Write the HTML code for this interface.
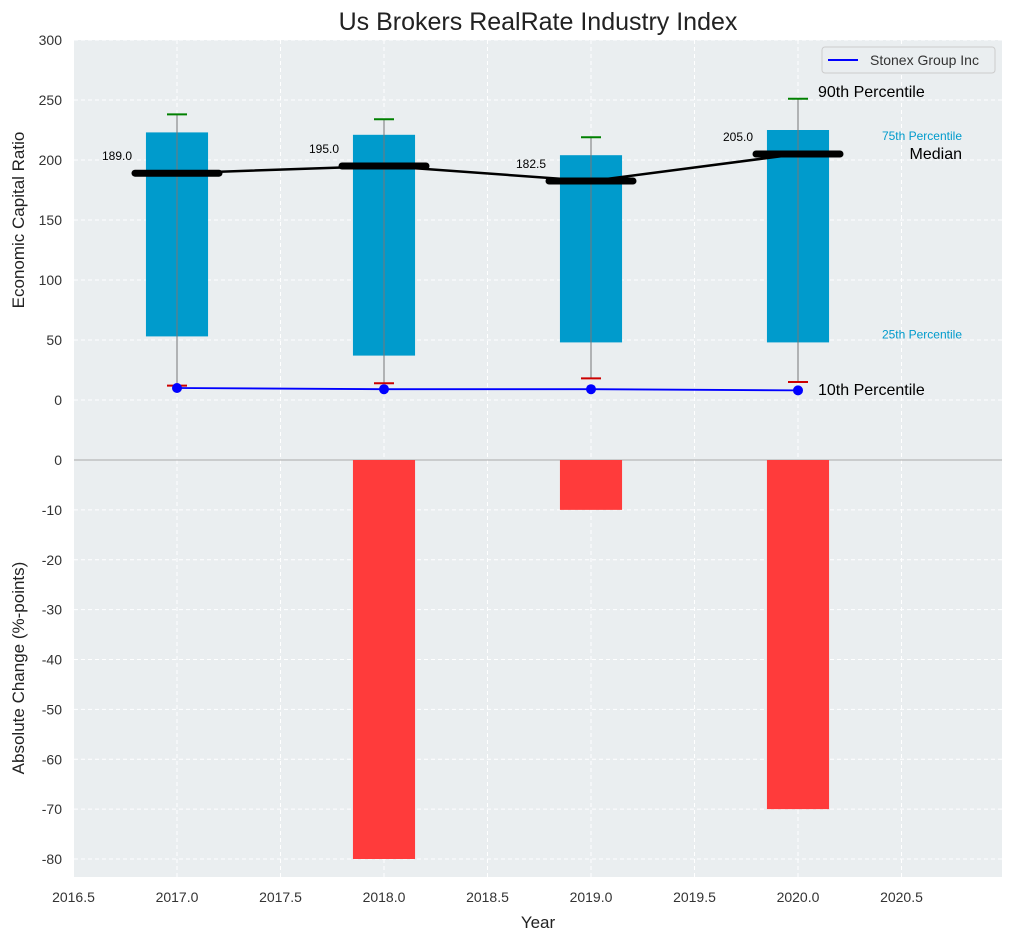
<!DOCTYPE html>
<html><head><meta charset="utf-8"><style>
body{margin:0;background:#fff;font-family:"Liberation Sans",sans-serif}
</style></head><body>
<svg id="c" width="1012" height="940" xmlns="http://www.w3.org/2000/svg" font-family="Liberation Sans, sans-serif"></svg>
<script>
const years=[2017,2018,2019,2020];
const p10=[12,14,18,15];
const p25=[53,37,48,48];
const p50=[189,195,182.5,205];
const p75=[223,221,204,225];
const p90=[238,234,219,251];
const stonex=[10,9,9,8];
const change=[0,-80,-10,-70];
const xTicks=[2016.5,2017,2017.5,2018,2018.5,2019,2019.5,2020,2020.5];
const yTopTicks=[0,50,100,150,200,250,300];
const yBotTicks=[0,-10,-20,-30,-40,-50,-60,-70,-80];

const svg=document.getElementById('c');
const NS='http://www.w3.org/2000/svg';
const L=74,R=1002,T1=40,B1=460,T2=460,B2=877;
const X=v=>73.5+(v-2016.5)*207;
const Y1=v=>400-v*1.2;
const Y2=v=>460-v*4.9875;
function el(t,a,txt){const e=document.createElementNS(NS,t);for(const k in a)e.setAttribute(k,a[k]);if(txt!==undefined)e.textContent=txt;svg.appendChild(e);return e;}

let e;
e=el('rect',{x:L,y:T1,width:R-L,height:B1-T1,fill:'#eaeef0'});

e=el('rect',{x:L,y:T2,width:R-L,height:B2-T2,fill:'#eaeef0'});

xTicks.forEach(t=>{el('line',{x1:X(t),x2:X(t),y1:T1,y2:B2,stroke:'#fff','stroke-dasharray':'4,3','stroke-width':1});});
yTopTicks.forEach(t=>{el('line',{x1:L,x2:R,y1:Y1(t),y2:Y1(t),stroke:'#fff','stroke-dasharray':'4,3'});
 e=el('text',{x:L-12,y:Y1(t)+5,'text-anchor':'end','font-size':14,fill:'#333'},t);
 });
yBotTicks.forEach(t=>{el('line',{x1:L,x2:R,y1:Y2(t),y2:Y2(t),stroke:'#fff','stroke-dasharray':'4,3'});
 e=el('text',{x:L-12,y:Y2(t)+5,'text-anchor':'end','font-size':14,fill:'#333'},t);
 });
el('line',{x1:L,x2:R,y1:460,y2:460,stroke:'#aaa','stroke-width':1});
xTicks.forEach(t=>{e=el('text',{x:X(t),y:902,'text-anchor':'middle','font-size':14,fill:'#333'},t.toFixed(1));
 });

const bw=0.3*207;
years.forEach((y,i)=>{
 const cx=X(y);
 e=el('rect',{x:cx-bw/2,y:Y1(p75[i]),width:bw,height:Y1(p25[i])-Y1(p75[i]),fill:'#009bcc'});
 
 el('line',{x1:cx,x2:cx,y1:Y1(p90[i]),y2:Y1(p10[i]),stroke:'#777','stroke-width':1});
 el('line',{x1:cx-10,x2:cx+10,y1:Y1(p90[i]),y2:Y1(p90[i]),stroke:'green','stroke-width':2});
 el('line',{x1:cx-10,x2:cx+10,y1:Y1(p10[i]),y2:Y1(p10[i]),stroke:'#c00','stroke-width':2});
 e=el('line',{x1:cx-42,x2:cx+42,y1:Y1(p50[i]),y2:Y1(p50[i]),stroke:'#000','stroke-width':7,'stroke-linecap':'round'});
 
 e=el('text',{x:cx-60,y:Y1(p50[i])-13,'text-anchor':'middle','font-size':12,fill:'#000'},p50[i].toFixed(1));
 
 if(change[i]!==0){e=el('rect',{x:cx-bw/2,y:Y2(0),width:bw,height:Y2(change[i])-Y2(0),fill:'#ff3b3b'});
 }
});
e=el('polyline',{points:years.map((y,i)=>X(y)+','+Y1(p50[i])).join(' '),fill:'none',stroke:'#000','stroke-width':2.5});

e=el('polyline',{points:years.map((y,i)=>X(y)+','+Y1(stonex[i])).join(' '),fill:'none',stroke:'#0000ff','stroke-width':1.8});

years.forEach((y,i)=>{e=el('circle',{cx:X(y),cy:Y1(stonex[i]),r:5,fill:'#0000ff'});
 });

const lx=X(2020)+20,li=3;
e=el('text',{x:lx,y:Y1(p90[li])-2,'font-size':16,fill:'#000'},'90th Percentile');
e=el('text',{x:962,y:Y1(p75[li])+10,'text-anchor':'end','font-size':12,fill:'#009bcc'},'75th Percentile');
e=el('text',{x:962,y:Y1(p50[li])+5,'text-anchor':'end','font-size':16,fill:'#000'},'Median');
e=el('text',{x:962,y:Y1(p25[li])-4,'text-anchor':'end','font-size':12,fill:'#009bcc'},'25th Percentile');
e=el('text',{x:lx,y:Y1(p10[li])+13,'font-size':16,fill:'#000'},'10th Percentile');

e=el('rect',{x:822,y:47,width:173,height:26,rx:3,fill:'#eaeef0',stroke:'#ccc'});
el('line',{x1:828,x2:858,y1:60,y2:60,stroke:'#0000ff','stroke-width':2});
e=el('text',{x:870,y:65,'font-size':14,fill:'#333'},'Stonex Group Inc');

e=el('text',{x:538,y:30,'text-anchor':'middle','font-size':25,fill:'#222'},'Us Brokers RealRate Industry Index');
e=el('text',{x:538,y:928,'text-anchor':'middle','font-size':17,fill:'#222'},'Year');
e=el('text',{x:24,y:220,'text-anchor':'middle','font-size':17,fill:'#222',transform:'rotate(-90 24 220)'},'Economic Capital Ratio');
e=el('text',{x:24,y:668,'text-anchor':'middle','font-size':17,fill:'#222',transform:'rotate(-90 24 668)'},'Absolute Change (%-points)');
</script>
</body></html>
